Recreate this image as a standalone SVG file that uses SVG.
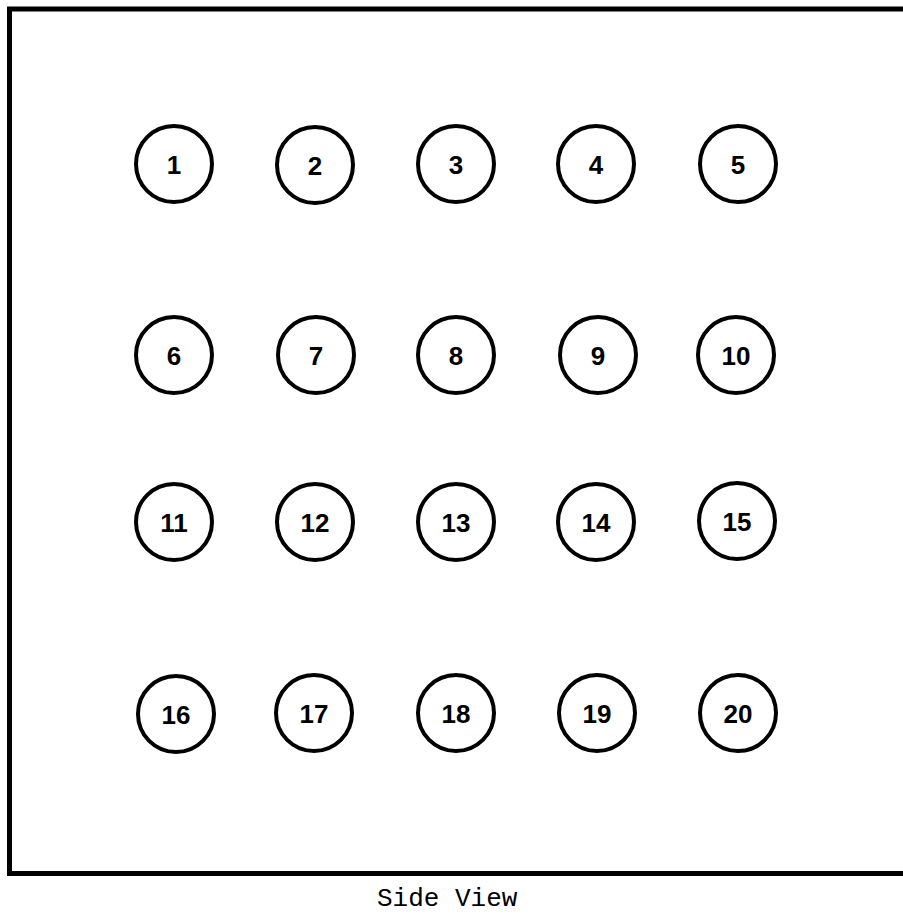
<svg xmlns="http://www.w3.org/2000/svg" width="903" height="914" viewBox="0 0 903 914">
<style>
.frame{fill:none;stroke:#000;stroke-width:5;stroke-linejoin:miter}
.pin circle{fill:#fff;stroke:#000;stroke-width:4}
.pin text{font-family:"Liberation Sans",Arial,sans-serif;font-weight:bold;font-size:26px;text-anchor:middle;fill:#000}
.cap{font-family:"Liberation Mono","Courier New",monospace;font-size:26px;fill:#000}
</style>
<rect width="903" height="914" fill="#fff"/>
<path class="frame" d="M905,9 H9.5 V873.5 H905"/>
<g id="connectors"/>
<g id="n1" class="pin"><circle cx="174" cy="164" r="38"/><text x="174" y="174">1</text></g>
<g id="n2" class="pin"><circle cx="315" cy="165" r="38"/><text x="315" y="175">2</text></g>
<g id="n3" class="pin"><circle cx="456" cy="164" r="38"/><text x="456" y="174">3</text></g>
<g id="n4" class="pin"><circle cx="596" cy="164" r="38"/><text x="596" y="174">4</text></g>
<g id="n5" class="pin"><circle cx="738" cy="164" r="38"/><text x="738" y="174">5</text></g>
<g id="n6" class="pin"><circle cx="174" cy="355" r="38"/><text x="174" y="365">6</text></g>
<g id="n7" class="pin"><circle cx="316" cy="355" r="38"/><text x="316" y="365">7</text></g>
<g id="n8" class="pin"><circle cx="456" cy="355" r="38"/><text x="456" y="365">8</text></g>
<g id="n9" class="pin"><circle cx="598" cy="355" r="38"/><text x="598" y="365">9</text></g>
<g id="n10" class="pin"><circle cx="736" cy="355" r="38"/><text x="736" y="365">10</text></g>
<g id="n11" class="pin"><circle cx="174" cy="522" r="38"/><text x="174" y="532">11</text></g>
<g id="n12" class="pin"><circle cx="315" cy="522" r="38"/><text x="315" y="532">12</text></g>
<g id="n13" class="pin"><circle cx="456" cy="522" r="38"/><text x="456" y="532">13</text></g>
<g id="n14" class="pin"><circle cx="596" cy="522" r="38"/><text x="596" y="532">14</text></g>
<g id="n15" class="pin"><circle cx="737" cy="521" r="38"/><text x="737" y="531">15</text></g>
<g id="n16" class="pin"><circle cx="176" cy="714" r="38"/><text x="176" y="724">16</text></g>
<g id="n17" class="pin"><circle cx="314" cy="713" r="38"/><text x="314" y="723">17</text></g>
<g id="n18" class="pin"><circle cx="456" cy="713" r="38"/><text x="456" y="723">18</text></g>
<g id="n19" class="pin"><circle cx="597" cy="713" r="38"/><text x="597" y="723">19</text></g>
<g id="n20" class="pin"><circle cx="738" cy="713" r="38"/><text x="738" y="723">20</text></g>
<text class="cap" x="377" y="906">Side View</text>
</svg>
